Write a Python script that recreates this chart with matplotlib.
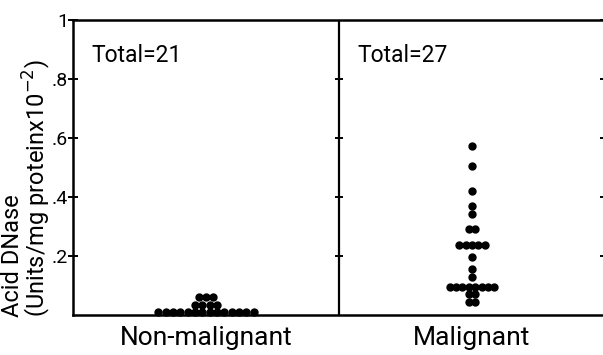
import matplotlib
matplotlib.use("Agg")
import matplotlib.pyplot as plt

# data (enzyme activity, units/mg protein x10^-2)
groups = ["Non-malignant", "Malignant"]
totals = [21, 27]
nonmalig_vals = [0.01] * 14 + [0.035] * 4 + [0.06] * 3
malig_vals = ([0.574, 0.505, 0.42, 0.369, 0.341] + [0.29] * 2 + [0.237] * 5
              + [0.198, 0.156, 0.13] + [0.096] * 8 + [0.072] * 2 + [0.045] * 2)
yticks = [0.2, 0.4, 0.6, 0.8, 1.0]
yticklabels = [".2", ".4", ".6", ".8", "1"]

plt.rcParams["font.family"] = ["Roboto", "DejaVu Sans"]


def stack(vals, center, step):
    # lay equal values side by side, centred on the panel
    xs, ys = [], []
    for v in sorted(set(vals)):
        n = vals.count(v)
        for i in range(n):
            xs.append(center + (i - (n - 1) / 2) * step)
            ys.append(v)
    return xs, ys


fig = plt.figure(figsize=(6.03, 3.55), dpi=100)
ax = fig.add_axes([73 / 603, 40 / 355, 532 / 603, 295 / 355])
ax.set_xlim(0, 2)
ax.set_ylim(0, 1)

for k, (vals, step) in enumerate([(nonmalig_vals, 0.0275), (malig_vals, 0.024)]):
    xs, ys = stack(vals, k + 0.5, step)
    ax.plot(xs, ys, "o", ms=5.0, color="black", mec="black", clip_on=False)
    ax.text(k + 0.07, 0.88, f"Total={totals[k]}", fontsize=16.5, va="center", ha="left")

ax.axvline(1, color="black", lw=1.6)
ax.hlines(yticks[:-1], 1 - 0.016, 1 + 0.016, color="black", lw=1.4)

ax.set_yticks(yticks)
ax.set_yticklabels(yticklabels, fontsize=14)
ax.tick_params(axis="y", direction="inout", length=7, width=1.4, pad=0, right=True)
ax.set_xticks([0.5, 1.5])
ax.set_xticklabels(groups, fontsize=19)
ax.tick_params(axis="x", length=0, pad=8)
for s in ax.spines.values():
    s.set_linewidth(1.8)

fig.text(1 / 603, 38 / 355, "Acid DNase\n(Units/mg proteinx10$^{-2}$)", rotation=90,
         fontsize=17, linespacing=0.88, ha="left", va="bottom", multialignment="left")

fig.savefig("out.png", dpi=100)
